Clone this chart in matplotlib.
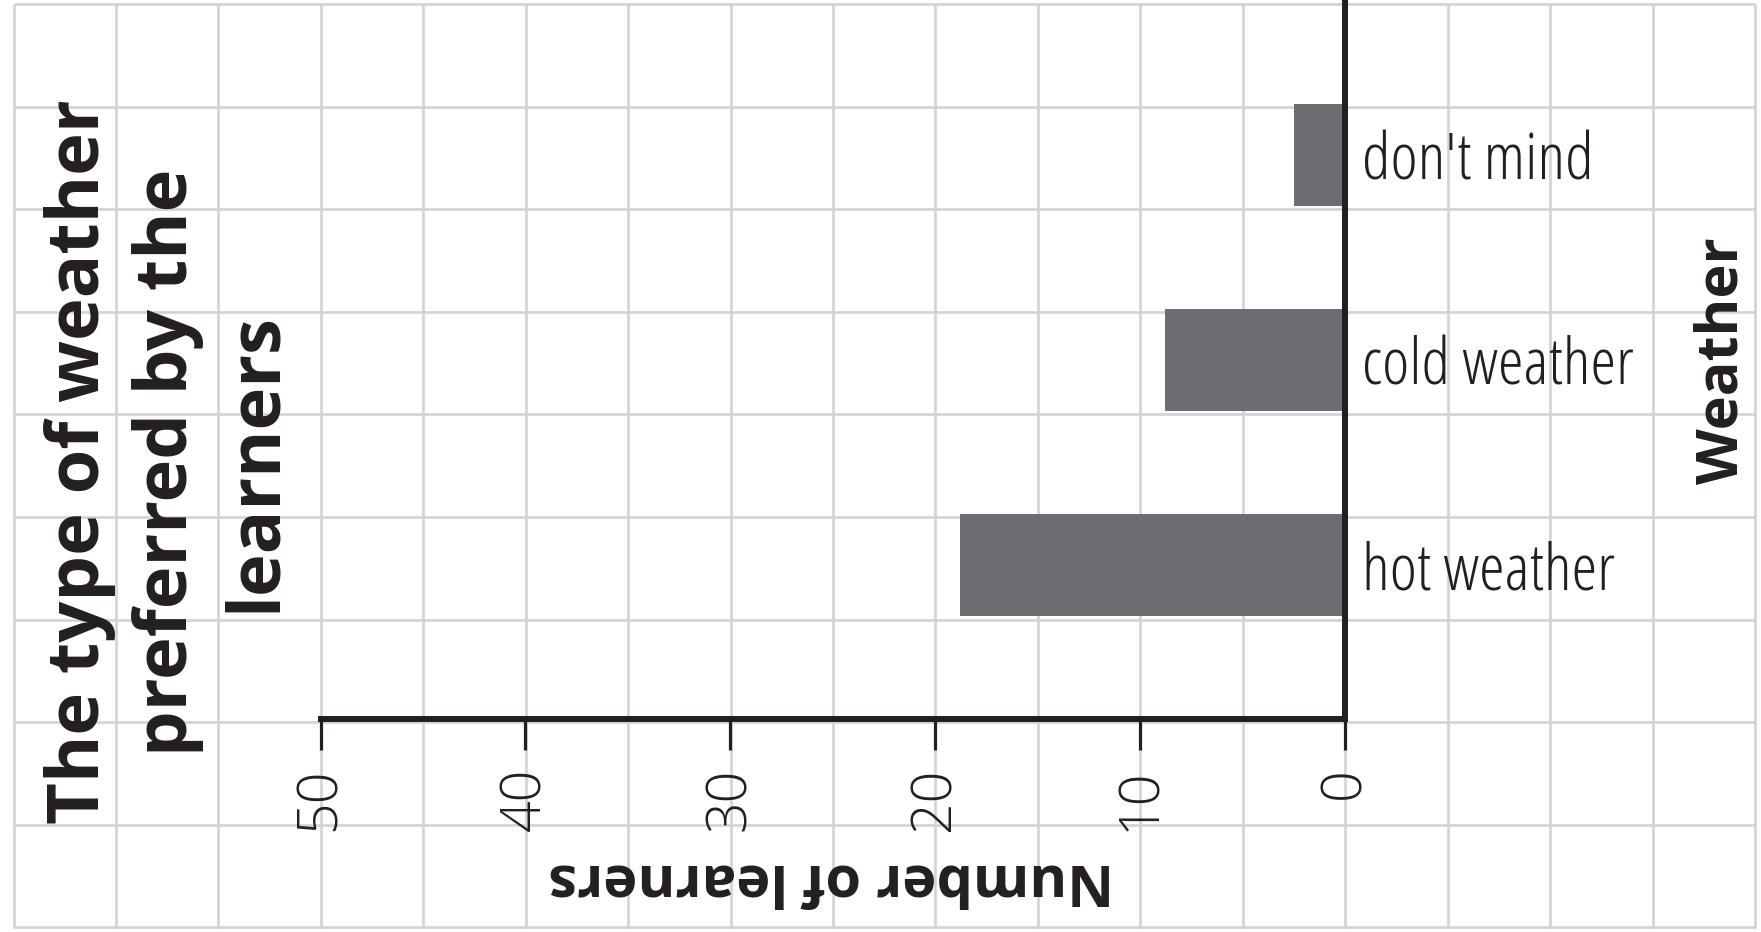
import numpy as np
import matplotlib
matplotlib.use("Agg")
import matplotlib.pyplot as plt

# data
categories = ["hot weather", "cold weather", "don't mind"]
learners = [18.8, 8.8, 2.5]
xticks = [0, 10, 20, 30, 40, 50]

title = "The type of weather\npreferred by the\nlearners"
xlabel = "Number of learners"
ylabel = "Weather"

FAM = ["Open Sans", "DejaVu Sans"]
INK = "#231f20"
BAR = "#6d6e71"
GRID = "#d1d3d4"

W, H = 1761, 932
fig = plt.figure(figsize=(W / 100, H / 100), dpi=100)

# squared paper background
bg = fig.add_axes([0, 0, 1, 1], zorder=0)
bg.set_xlim(0, W)
bg.set_ylim(H, 0)
bg.vlines(13.5 + 102.44 * np.arange(18), 4, 927.5, color=GRID, lw=1.9)
bg.hlines(4 + 102.6 * np.arange(10), 13.5, 1755, color=GRID, lw=1.9)
bg.axis("off")

# chart axes: x = 50 at px 320.5, x = 0 at px 1345, top at px 1, bottom at px 719
left, right, top, bottom = 320.5, 1345, 1, 719
ax = fig.add_axes([left / W, 1 - bottom / H, (right - left) / W, (bottom - top) / H], zorder=1)
ax.patch.set_visible(False)

ypos = np.arange(len(categories))
ax.barh(ypos, learners, height=0.5, color=BAR)
ax.set_xlim(50, 0)
ax.set_ylim(-0.75, 2.75)

for s in ["top", "left"]:
    ax.spines[s].set_visible(False)
for s in ["right", "bottom"]:
    ax.spines[s].set_color(INK)
    ax.spines[s].set_linewidth(4.3)
    ax.spines[s].set_capstyle("projecting")

ax.set_xticks(xticks)
ax.set_xticklabels([str(t) for t in xticks], rotation=90, family=FAM, fontweight=300, fontsize=40, color=INK)
ax.tick_params(axis="x", direction="out", length=22, width=2.3, color=INK, pad=13)

ax.yaxis.tick_right()
ax.set_yticks(ypos)
ax.set_yticklabels(categories, family=FAM, fontweight=300, fontstretch="condensed", fontsize=47, color=INK)
ax.tick_params(axis="y", length=0, pad=12)

fig.text(168 / W, 1 - 462 / H, title, rotation=90, ha="center", va="center", multialignment="center",
         family=FAM, fontweight="bold", fontstretch="condensed", fontsize=52, linespacing=1.29, color=INK)
fig.text(1722 / W, 1 - 361 / H, ylabel, rotation=90, ha="center", va="center",
         family=FAM, fontweight="bold", fontsize=41.5, color=INK)
fig.text(831 / W, 1 - 879 / H, xlabel, rotation=180, ha="center", va="center",
         family=FAM, fontweight="bold", fontsize=41.5, color=INK)

fig.savefig("out.png", dpi=100, facecolor="white")
